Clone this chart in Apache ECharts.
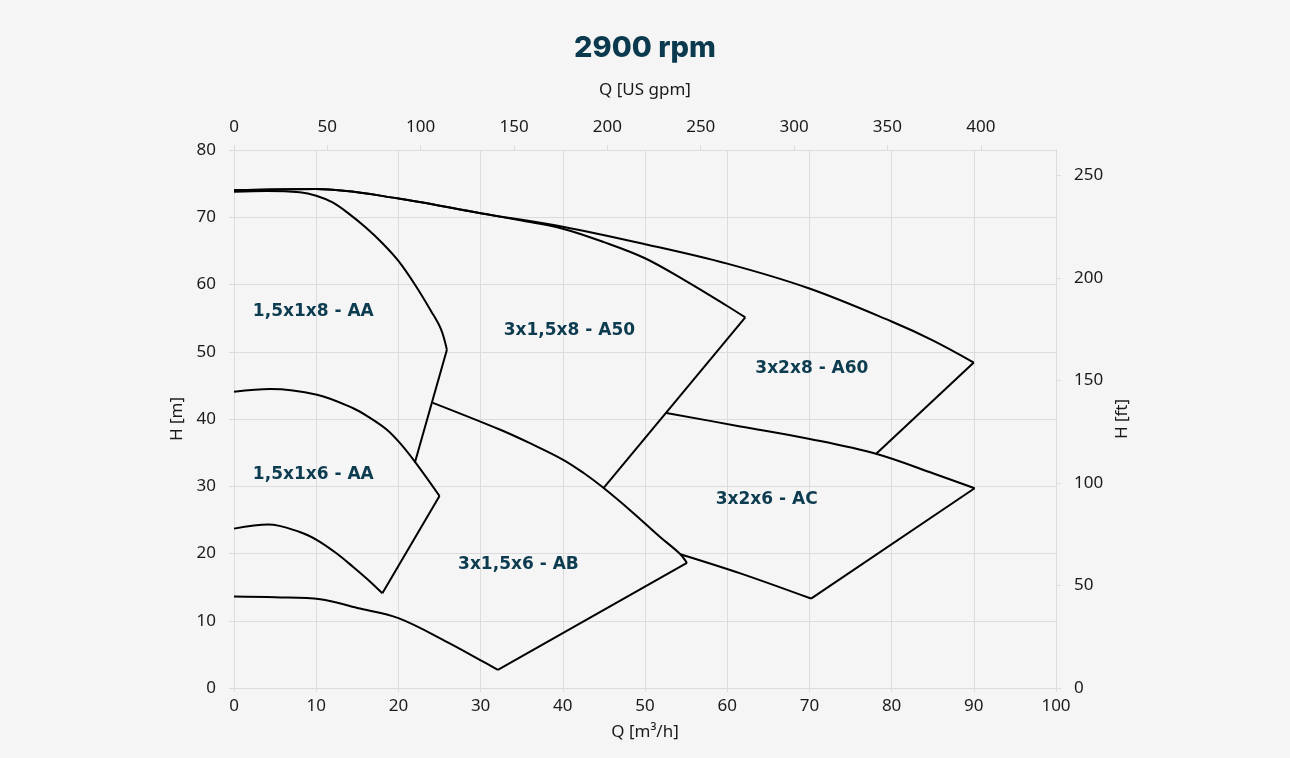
<!DOCTYPE html>
<html>
<head>
    <meta charset="utf-8">
    <style>
        html, body {
            height: 100%;
            margin: 0;
            padding: 0;
            background: #f5f5f5;
        }

        .container {
            width: 1290px;
            height: 758px;
        }
    </style>
</head>
<body>
<div id="main" class="container"></div>

<script src="https://cdn.jsdelivr.net/npm/echarts@6/dist/echarts.min.js"></script>
<script type="text/javascript">
// Q [m3/h], H [m] points
var aa8Top = [[0, 73.8], [4, 73.9], [8, 73.7], [10, 73.2], [12, 72.2], [14, 70.5], [16, 68.5], [18, 66.2], [20, 63.5], [22, 60.0], [24, 56.0], [25.2, 53.3], [25.9, 50.3]];
var aa8Max = [[25.9, 50.3], [22, 33.5]];
var a50Top = [[0, 74.0], [10, 74.2], [20, 72.8], [30, 70.6], [35, 69.5], [40, 68.3], [45, 66.3], [50, 63.9], [55, 60.5], [60, 56.8], [62.2, 55.1]];
var a50Max = [[62.2, 55.1], [45, 29.8]];
var a60Top = [[0, 74.0], [10, 74.2], [20, 72.8], [30, 70.6], [40, 68.6], [50, 66.0], [60, 63.1], [70, 59.4], [80, 54.5], [85, 51.7], [90, 48.4]];
var a60Max = [[90, 48.4], [78.1, 34.8]];
var acTop = [[52.6, 40.9], [61.6, 38.9], [70.2, 37.0], [78.2, 34.8], [85.1, 31.9], [90.1, 29.7]];
var acMax = [[90.1, 29.7], [70.2, 13.3]];
var acBottom = [[54.3, 19.9], [61.6, 17.05], [70.2, 13.3]];
var abTop = [[24.2, 42.4], [32.4, 38.4], [36, 36.4], [40.1, 33.9], [42.5, 32.0], [44.9, 29.8], [48.6, 26.0], [51.8, 22.5], [54.3, 19.9], [55.1, 18.6]];
var abMax = [[55.1, 18.6], [32.1, 2.7]];
var abBottom = [[0, 13.6], [5, 13.5], [10.5, 13.2], [15, 11.9], [20, 10.4], [26, 6.8], [29.9, 4.2], [32.1, 2.7]];
var aa6Top = [[0, 44.06], [4.4, 44.46], [10.1, 43.6], [14.5, 41.6], [16.5, 40.2], [18.6, 38.4], [20.2, 36.4], [22, 33.65], [25, 28.55]];
var aa6Max = [[25, 28.55], [18.05, 14.08]];
var aa6Bottom = [[0, 23.7], [4.2, 24.3], [8, 23.2], [10.1, 22.0], [12.5, 20.0], [14.5, 18.0], [16.3, 16.1], [18.05, 14.08]];

// pump names and where they sit
var pumpLabels = [
    [9.65, 55.9, '1,5x1x8 - AA'],
    [40.8, 53.1, '3x1,5x8 - A50'],
    [70.3, 47.5, '3x2x8 - A60'],
    [9.65, 31.8, '1,5x1x6 - AA'],
    [34.6, 18.4, '3x1,5x6 - AB'],
    [64.8, 28.0, '3x2x6 - AC']
];

// axis ranges (second axes are unit conversions of the first)
var qMax = 100;            // m3/h
var gpmMax = 440.29;       // 100 m3/h in US gpm
var hMax = 80;             // m
var ftMax = 262.47;        // 80 m in ft

var curves = [aa8Top, a50Top, a60Top, acTop, acBottom, abTop, abBottom, aa6Top, aa6Bottom];
var straights = [aa8Max, a50Max, a60Max, acMax, abMax, aa6Max];

var myChart = echarts.init(document.getElementById('main'));
var textColor = '#1a1a1a';
var gridColor = '#dcdcdc';
var labelFont = 'Noto Sans';

var series = [];
curves.forEach(function (c) {
    series.push({
        type: 'line', data: c, smooth: 0.35, symbol: 'none',
        lineStyle: {color: '#000', width: 2}
    });
});
straights.forEach(function (c) {
    series.push({
        type: 'line', data: c, symbol: 'none',
        lineStyle: {color: '#000', width: 2}
    });
});
series.push({
    type: 'scatter',
    data: pumpLabels,
    symbolSize: 0,
    itemStyle: {opacity: 1},
    label: {
        show: true,
        position: 'inside',
        formatter: function (p) { return p.value[2]; },
        color: '#0d3b4f',
        fontFamily: 'DejaVu Sans',
        fontWeight: 'bold',
        fontSize: 17
    }
});

var option = {
    backgroundColor: '#f5f5f5',
    animation: false,
    title: {
        text: '2900 rpm',
        left: 'center',
        top: 29,
        textStyle: {color: '#0b3a4e', fontFamily: 'Inter', fontWeight: 800, fontSize: 29}
    },
    grid: {left: 234, right: 234, top: 150, bottom: 70},
    xAxis: [
        {
            type: 'value', position: 'bottom', min: 0, max: qMax, interval: 10,
            name: 'Q [m³/h]', nameLocation: 'middle', nameGap: 36,
            nameTextStyle: {color: textColor, fontFamily: labelFont, fontSize: 17},
            axisLine: {show: true, onZero: false, lineStyle: {color: gridColor}},
            axisTick: {show: true, length: 4, lineStyle: {color: gridColor}},
            axisLabel: {color: textColor, fontFamily: labelFont, fontSize: 17, margin: 10},
            splitLine: {show: true, lineStyle: {color: gridColor}}
        },
        {
            type: 'value', position: 'top', min: 0, max: gpmMax, interval: 50,
            name: 'Q [US gpm]', nameLocation: 'middle', nameGap: 51,
            nameTextStyle: {color: textColor, fontFamily: labelFont, fontSize: 17},
            axisLine: {show: true, onZero: false, lineStyle: {color: gridColor}},
            axisTick: {show: true, length: 5, lineStyle: {color: gridColor}},
            axisLabel: {color: textColor, fontFamily: labelFont, fontSize: 17, margin: 14, showMaxLabel: false},
            splitLine: {show: false}
        }
    ],
    yAxis: [
        {
            type: 'value', position: 'left', min: 0, max: hMax, interval: 10,
            name: 'H [m]', nameLocation: 'middle', nameGap: 48,
            nameTextStyle: {color: textColor, fontFamily: labelFont, fontSize: 17},
            axisLine: {show: true, onZero: false, lineStyle: {color: gridColor}},
            axisTick: {show: true, length: 5, lineStyle: {color: gridColor}},
            axisLabel: {color: textColor, fontFamily: labelFont, fontSize: 17, margin: 18},
            splitLine: {show: true, lineStyle: {color: gridColor}}
        },
        {
            type: 'value', position: 'right', min: 0, max: ftMax, interval: 50,
            name: 'H [ft]', nameLocation: 'middle', nameGap: 58,
            nameTextStyle: {color: textColor, fontFamily: labelFont, fontSize: 17},
            axisLine: {show: true, onZero: false, lineStyle: {color: gridColor}},
            axisTick: {show: true, length: 5, lineStyle: {color: gridColor}},
            axisLabel: {color: textColor, fontFamily: labelFont, fontSize: 17, margin: 18, showMaxLabel: false},
            splitLine: {show: false}
        }
    ],
    series: series
};

myChart.setOption(option);
</script>
</body>
</html>
